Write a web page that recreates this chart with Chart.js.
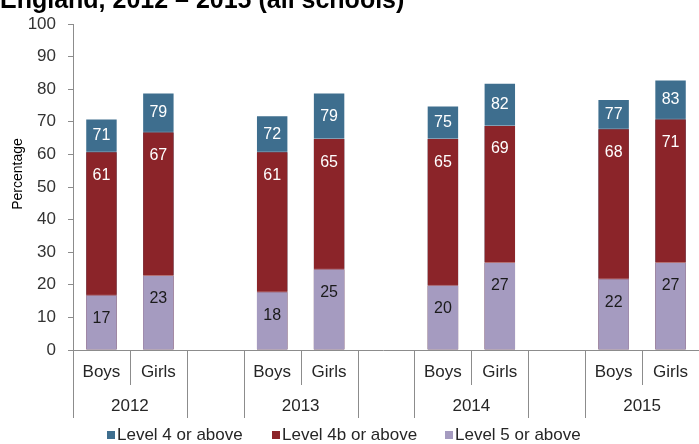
<!DOCTYPE html>
<html>
<head>
<meta charset="utf-8">
<script src="https://cdn.jsdelivr.net/npm/chart.js@4"></script>
<style>
html,body{margin:0;padding:0;background:#fff;}
#wrap{width:699px;height:444px;position:relative;}
</style>
</head>
<body>
<div id="wrap"><canvas id="c" width="699" height="444"></canvas></div>
<script>
// ---- data ----
const years = ['2012', '2013', '2014', '2015'];
const genders = ['Boys', 'Girls'];
const level4 = [71, 79, 72, 79, 75, 82, 77, 83];
const level4b = [61, 67, 61, 65, 65, 69, 68, 71];
const level5 = [17, 23, 18, 25, 20, 27, 22, 27];
const seriesNames = ['Level 4 or above', 'Level 4b or above', 'Level 5 or above'];
const yTicks = [0, 10, 20, 30, 40, 50, 60, 70, 80, 90, 100];
const titleText = 'England, 2012 \u2013 2015 (all schools)';
const yTitle = 'Percentage';

// build slots: Boys, Girls, (gap) per year, no trailing gap
const slotLabels = [];
const slotYear = [];
years.forEach((y, yi) => {
  genders.forEach(g => { slotLabels.push(g); slotYear.push(y); });
  if (yi < years.length - 1) { slotLabels.push(''); slotYear.push(null); }
});
function spread(arr) {
  const out = []; let k = 0;
  slotLabels.forEach(l => { out.push(l === '' ? null : arr[k++]); });
  return out;
}

const colors = ['#3E6E8E', '#8B2429', '#A59BC0'];
const FONT = 'Liberation Sans, Arial, sans-serif';

const axisPlugin = {
  id: 'customAxis',
  afterDraw(chart) {
    const ctx = chart.ctx;
    const xs = chart.scales.x;
    const ca = chart.chartArea;
    const step = xs.getPixelForValue(1) - xs.getPixelForValue(0);
    const y0 = ca.bottom;
    ctx.save();
    ctx.strokeStyle = '#8c8c8c';
    ctx.lineWidth = 1;
    // baseline
    ctx.beginPath();
    ctx.moveTo(ca.left - 5, y0 + 0.5); ctx.lineTo(ca.right, y0 + 0.5); ctx.stroke();
    // separators
    for (let i = 0; i < slotLabels.length; i++) {
      const left = Math.round(xs.getPixelForValue(i) - step / 2) + 0.5;
      const len = slotLabels[i] === 'Girls' ? 35 : 68;
      ctx.beginPath(); ctx.moveTo(left, y0); ctx.lineTo(left, y0 + len); ctx.stroke();
    }
    // category labels
    ctx.fillStyle = '#262626';
    ctx.font = '17px ' + FONT;
    ctx.textAlign = 'center';
    ctx.textBaseline = 'middle';
    slotLabels.forEach((l, i) => {
      if (l) ctx.fillText(l, xs.getPixelForValue(i), y0 + 22);
    });
    years.forEach(y => {
      const idx = slotYear.indexOf(y);
      const cx = (xs.getPixelForValue(idx) + xs.getPixelForValue(idx + 1)) / 2;
      ctx.fillText(y, cx, y0 + 56);
    });
    // y axis title
    ctx.save();
    ctx.translate(18, 174);
    ctx.rotate(-Math.PI / 2);
    ctx.font = '14px ' + FONT;
    ctx.fillStyle = '#000';
    ctx.fillText(yTitle, 0, 0);
    ctx.restore();
    // legend
    const lx = [107, 272, 445];
    ctx.font = '17px ' + FONT;
    ctx.textAlign = 'left';
    chart.data.datasets.forEach((ds, i) => {
      ctx.fillStyle = ds.backgroundColor;
      ctx.fillRect(lx[i], 431, 8, 8);
      ctx.fillStyle = '#262626';
      ctx.fillText(ds.label, lx[i] + 10, 435);
    });
    // title (cut off at top as in source)
    ctx.font = 'bold 25px ' + FONT;
    ctx.textAlign = 'left';
    ctx.textBaseline = 'alphabetic';
    ctx.fillStyle = '#000';
    ctx.fillText(titleText, 0, 8);
    ctx.restore();
  }
};

const labelPlugin = {
  id: 'barLabels',
  afterDatasetsDraw(chart) {
    const ctx = chart.ctx;
    const m4 = chart.getDatasetMeta(0).data;
    const m4b = chart.getDatasetMeta(1).data;
    const m5 = chart.getDatasetMeta(2).data;
    const d = chart.data.datasets;
    ctx.save();
    ctx.font = '16px ' + FONT;
    ctx.textAlign = 'center';
    ctx.textBaseline = 'middle';
    for (let i = 0; i < slotLabels.length; i++) {
      if (d[0].data[i] == null) continue;
      ctx.fillStyle = '#ffffff';
      ctx.fillText(d[0].data[i], m4[i].x, (m4[i].y + m4b[i].y) / 2 + 1);
      ctx.fillText(d[1].data[i], m4b[i].x, m4b[i].y + 24);
      ctx.fillStyle = '#1a1a1a';
      ctx.fillText(d[2].data[i], m5[i].x, m5[i].y + 24);
    }
    ctx.restore();
  }
};

new Chart(document.getElementById('c'), {
  type: 'bar',
  data: {
    labels: slotLabels,
    datasets: [
      { label: seriesNames[0], data: spread(level4), backgroundColor: colors[0], order: 3 },
      { label: seriesNames[1], data: spread(level4b), backgroundColor: colors[1], order: 2 },
      { label: seriesNames[2], data: spread(level5), backgroundColor: colors[2], order: 1 }
    ]
  },
  options: {
    responsive: false,
    animation: false,
    devicePixelRatio: 1,
    layout: { padding: { top: 24, left: 0, right: 0, bottom: 41 } },
    datasets: { bar: { barPercentage: 0.57, categoryPercentage: 1.0, borderWidth: 1, borderColor: 'rgba(255,255,255,0.35)' } },
    scales: {
      x: {
        stacked: true,
        grid: { display: false },
        border: { display: false },
        ticks: { display: false },
        afterFit(s) { s.height = 53; }
      },
      y: {
        stacked: false,
        min: 0, max: 100,
        afterBuildTicks(s) { s.ticks = yTicks.map(v => ({ value: v })); },
        ticks: { color: '#333333', font: { family: FONT, size: 17 }, padding: 12 },
        grid: { drawOnChartArea: false, drawTicks: true, tickLength: 5, color: '#8c8c8c' },
        border: { display: true, color: '#8c8c8c' },
        afterFit(s) { s.width = 73; }
      }
    },
    plugins: {
      legend: { display: false },
      tooltip: { enabled: false },
      title: { display: false }
    }
  },
  plugins: [axisPlugin, labelPlugin]
});
</script>
</body>
</html>
